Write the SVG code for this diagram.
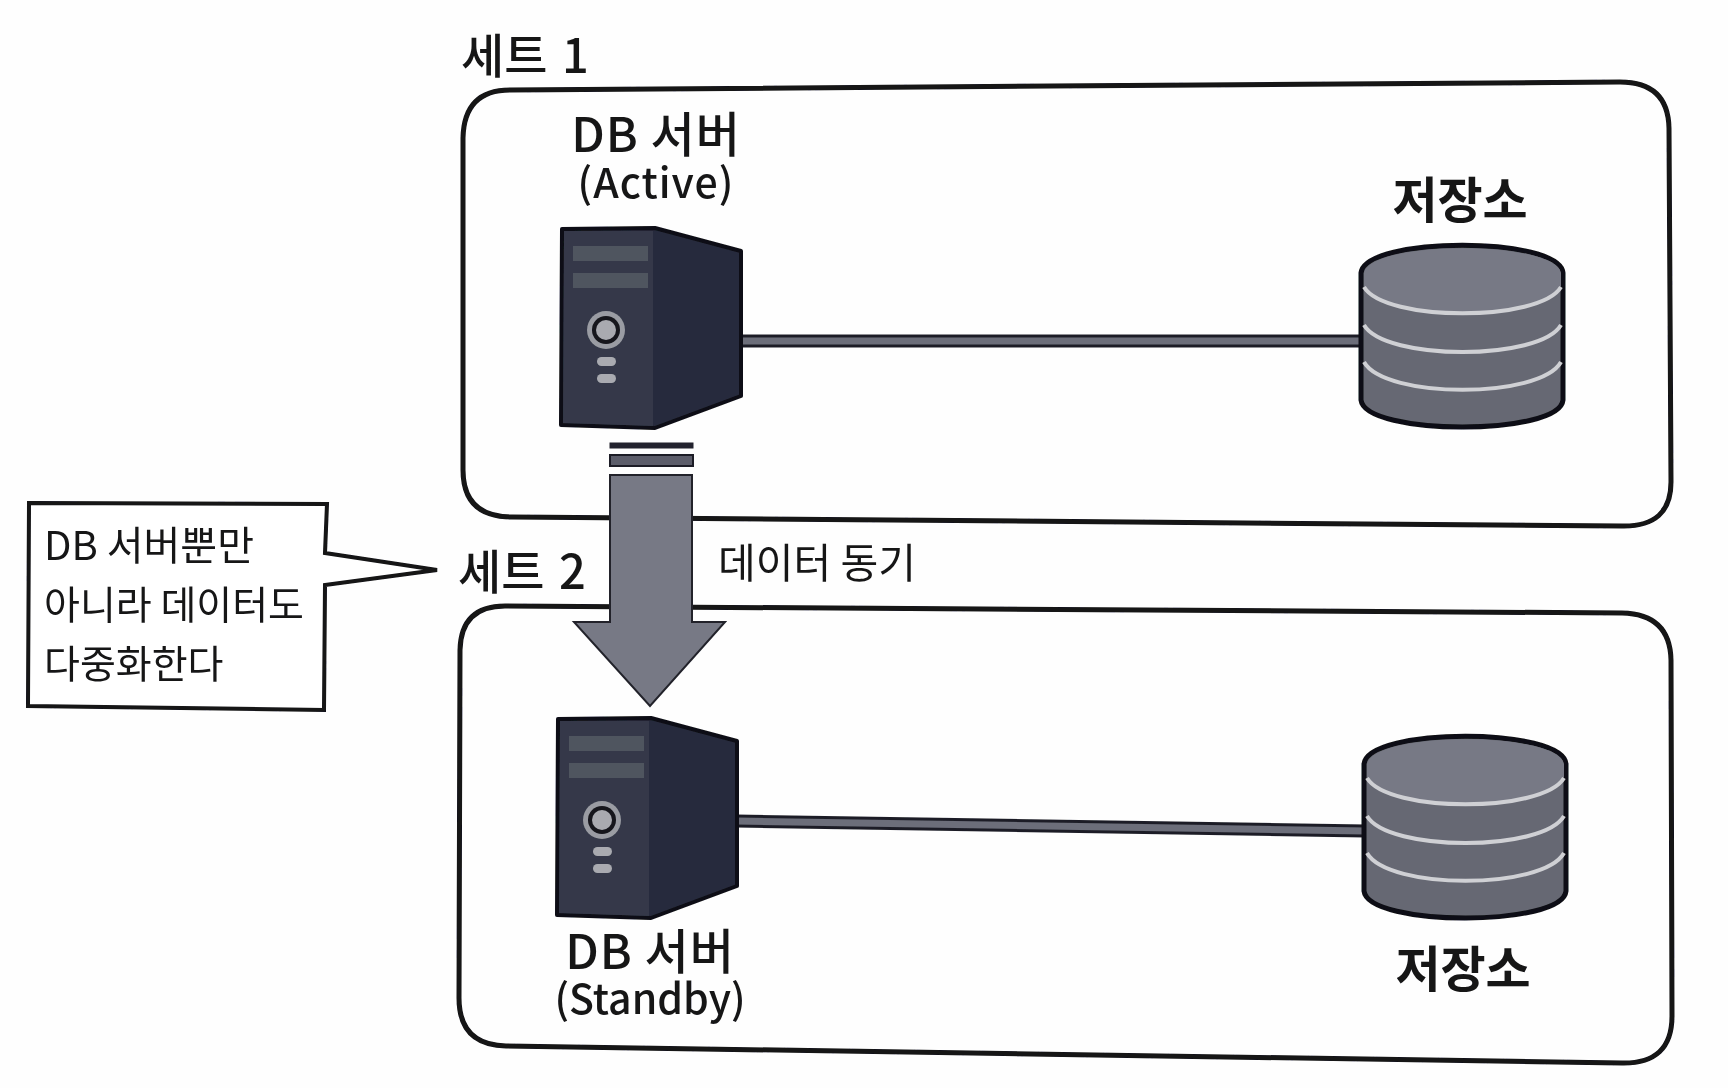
<svg xmlns="http://www.w3.org/2000/svg" width="1728" height="1088" viewBox="0 0 1728 1088">
<style>
text{font-family:"Noto Sans CJK KR","Noto Sans",sans-serif;fill:#141416}
.h{font-size:47px;font-weight:500;word-spacing:4px}
.n{font-size:48px;font-weight:500;text-anchor:middle;letter-spacing:1px}
.a{font-size:41px;font-weight:500;text-anchor:middle}
.t{font-size:49px;font-weight:700;text-anchor:middle}
.s{font-size:41px;text-anchor:middle}
.c{font-size:39px}
.box{fill:none;stroke:#121214;stroke-width:5}
.link{fill:none;stroke:#1e1f28;stroke-width:13}
.linki{fill:none;stroke:#6c6e7a;stroke-width:7}
.ring{fill:none;stroke:#cfd0d4;stroke-width:4}
</style>
<defs>
<filter id="soft" x="-5%" y="-5%" width="110%" height="110%"><feGaussianBlur stdDeviation="0.600"/></filter>
<g id="srv">
<path d="M562 229L655 228L741 251V396L655 428L561 425Z" fill="#272b3c" stroke="#0d0e14" stroke-width="4" stroke-linejoin="round"/>
<path d="M564 231H653V426L563 423Z" fill="#343948"/>
<rect x="573" y="246" width="75" height="15" fill="#50545f"/>
<rect x="573" y="273" width="75" height="15" fill="#50545f"/>
<circle cx="606" cy="330" r="19" fill="#9a9ca3"/>
<circle cx="606" cy="330" r="14" fill="#15161c"/>
<circle cx="606" cy="330" r="10" fill="#a9aab0"/>
<rect x="597" y="357" width="19" height="9" rx="4.500" fill="#a9aab0"/>
<rect x="597" y="374" width="19" height="9" rx="4.500" fill="#a9aab0"/>
</g>
<g id="db">
<path d="M1361 273C1365 236 1560 236 1563 273V400C1560 436 1365 436 1361 400Z" fill="#666873" stroke="#0d0e12" stroke-width="5"/>
<path d="M1364 286C1385 322 1540 322 1561 286V273C1555 240 1370 240 1364 273Z" fill="#777985"/>
<path class="ring" d="M1364 287C1385 322 1540 322 1561 287"/>
<path class="ring" d="M1364 325C1385 361 1540 361 1561 325"/>
<path class="ring" d="M1364 362C1385 399 1540 399 1561 362"/>
</g>
</defs>
<rect width="1728" height="1088" fill="#fefefe"/>
<g filter="url(#soft)">
<g id="set1">
<path class="box" d="M510 90L1620 82Q1668 82 1669 128L1671 482Q1671 527 1622 526L512 517Q463 517 463 470V138Q464 90 510 90Z"/>
<text class="h" x="461" y="73">세트 1</text>
</g>
<g id="set2">
<path class="box" d="M505 606L1622 613Q1670 614 1671 660L1672 1016Q1672 1064 1622 1063L506 1046Q459 1045 459 998L460 650Q461 606 505 606Z"/>
<text class="h" x="458" y="589">세트 2</text>
</g>
<g id="connectors">
<path class="link" d="M740 341H1362"/><path class="linki" d="M740 341H1362"/>
<path class="link" d="M736 821L1366 831"/><path class="linki" d="M736 821L1366 831"/>
<g id="sync-arrow">
<rect x="610" y="443" width="83" height="5" fill="#23242e" stroke="#23242e"/>
<rect x="610" y="455" width="83" height="11" fill="#5b5d6a" stroke="#1c1d25" stroke-width="2"/>
<path d="M610 475H692V622H725L650 706L574 622H610Z" fill="#777985" stroke="#23242c" stroke-width="2"/>
</g>
</g>
<g id="server1"><use href="#srv"/>
<text class="n" x="656" y="152">DB 서버</text><text class="a" x="656" y="198" letter-spacing="1">(Active)</text></g>
<g id="storage1"><use href="#db"/><text class="t" x="1460" y="218">저장소</text></g>
<g id="server2"><use href="#srv" x="-4" y="490"/>
<text class="n" x="650" y="969">DB 서버</text><text class="a" x="650" y="1014">(Standby)</text></g>
<g id="storage2"><use href="#db" x="3" y="491"/><text class="t" x="1463" y="987">저장소</text></g>
<text id="sync-label" class="s" x="817" y="578">데이터 동기</text>
<g id="callout">
<path d="M29 503L327 504L325 553L437 570L325 585L324 710L28 706Z" fill="#fff" stroke="#121214" stroke-width="4"/>
<text class="c" x="44" y="560" font-size="40" style="font-size:40px">DB 서버뿐만</text>
<text class="c" x="44" y="619">아니라 데이터도</text>
<text class="c" x="44" y="678">다중화한다</text>
</g>
</g>
</svg>
